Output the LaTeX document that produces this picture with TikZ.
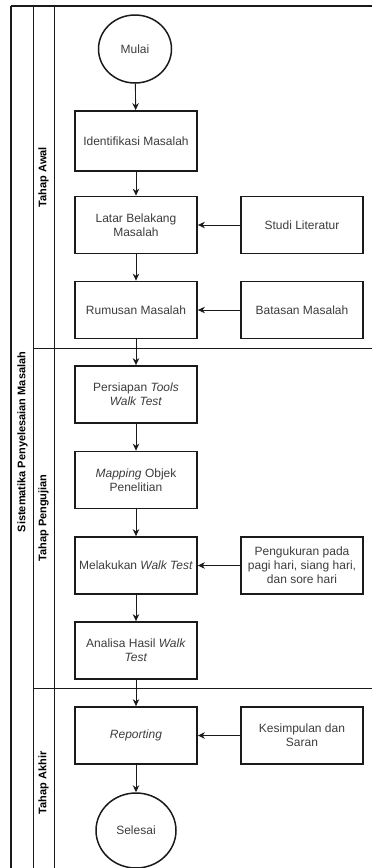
\documentclass[tikz,border=0pt]{standalone}
\usepackage{fontspec}
\setmainfont{Liberation Sans}
\usetikzlibrary{arrows.meta}
\definecolor{ln}{RGB}{26,26,26}
\definecolor{tx}{RGB}{60,60,60}
\tikzset{
  procbox/.style={draw=ln, line width=1.8pt, minimum width=122pt, minimum height=57pt, inner sep=2pt, align=center, text=tx, font=\fontsize{12}{14}\selectfont},
  termnode/.style={draw=ln, line width=1.5pt, ellipse, inner sep=0pt, text=tx, font=\fontsize{12}{14}\selectfont},
  flow/.style={draw=ln, line width=0.9pt, -{Stealth[length=7pt,width=6.5pt]}},
  lane/.style={draw=ln, line width=0.9pt},
  lanelabel/.style={rotate=90, font=\bfseries\fontsize{11}{13}\selectfont, text=black}
}
\usetikzlibrary{shapes.geometric}
\begin{document}
\begin{tikzpicture}[x=1pt,y=-1pt]
\useasboundingbox (0,0) rectangle (372,868);
\begin{scope}
\clip (0,0) rectangle (372,868);
% frame
\draw[ln, line width=1.5pt] (11,6) -- (380,6);
\draw[lane, line width=1.2pt] (11,6) -- (11,880);
\draw[lane] (33,6) -- (33,880);
\draw[lane] (54,6) -- (54,880);
\draw[lane] (33,348) -- (380,348);
\draw[lane] (33,688) -- (380,688);
\end{scope}
% labels
\node[lanelabel] (title) at (22.5,442) {Sistematika Penyelesaian Masalah};
\node[lanelabel] (l1) at (43.5,177) {Tahap Awal};
\node[lanelabel] (l2) at (43.5,518) {Tahap Pengujian};
\node[lanelabel] (l3) at (43.5,783) {Tahap Akhir};
% nodes
\node[termnode, minimum width=73pt, minimum height=68pt] (mulai) at (135,49) {Mulai};
\node[procbox, minimum height=60pt] (ident) at (136,141) {Identifikasi Masalah};
\node[procbox] (latar) at (136,225) {Latar Belakang\\Masalah};
\node[procbox] (studi) at (302,225) {Studi Literatur};
\node[procbox] (rumus) at (136,310) {Rumusan Masalah};
\node[procbox] (batas) at (302,310) {Batasan Masalah};
\node[procbox] (persiapan) at (136,394.5) {Persiapan \textit{Tools}\\\textit{Walk Test}};
\node[procbox] (mapping) at (136,480) {\textit{Mapping} Objek\\Penelitian};
\node[procbox] (walk) at (136,565.5) {Melakukan \textit{Walk Test}};
\node[procbox] (ukur) at (302,565.5) {Pengukuran pada\\pagi hari, siang hari,\\dan sore hari};
\node[procbox] (analisa) at (136,650.5) {Analisa Hasil \textit{Walk}\\\textit{Test}};
\node[procbox] (report) at (136,735.5) {\textit{Reporting}};
\node[procbox] (simpul) at (302,735.5) {Kesimpulan dan\\Saran};
\node[termnode, minimum width=80pt, minimum height=75pt] (selesai) at (136,830.5) {Selesai};
% connectors
\draw[flow] (mulai) -- (ident);
\draw[flow] (ident) -- (latar);
\draw[flow] (latar) -- (rumus);
\draw[flow] (rumus) -- (persiapan);
\draw[flow] (persiapan) -- (mapping);
\draw[flow] (mapping) -- (walk);
\draw[flow] (walk) -- (analisa);
\draw[flow] (analisa) -- (report);
\draw[flow] (report) -- (selesai);
\draw[flow] (studi) -- (latar);
\draw[flow] (batas) -- (rumus);
\draw[flow] (ukur) -- (walk);
\draw[flow] (simpul) -- (report);
\end{tikzpicture}
\end{document}
